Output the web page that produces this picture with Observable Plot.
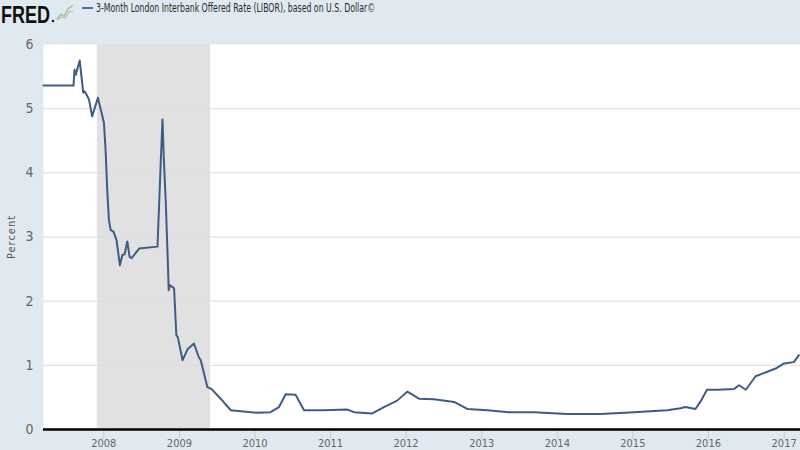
<!DOCTYPE html>
<html>
<head>
<meta charset="utf-8">
<script src="https://cdn.jsdelivr.net/npm/d3@7"></script>
<script src="https://cdn.jsdelivr.net/npm/@observablehq/plot@0.6"></script>
<style>
  html, body { margin: 0; padding: 0; background: #e1e9f0; }
  #wrap { position: relative; width: 800px; height: 450px; overflow: hidden; background: #e1e9f0; }
  #chart { position: absolute; left: 0; top: 0; }
  #header { position: absolute; left: 0; top: 0; }
</style>
</head>
<body>
<div id="wrap">
  <div id="chart"></div>
  <svg id="header" width="800" height="40">
    <text x="1" y="23" font-family="Liberation Sans, Arial, sans-serif" font-weight="bold" font-size="24" fill="#111" textLength="49" lengthAdjust="spacingAndGlyphs">FRED</text>
    <circle cx="53" cy="21" r="1.2" fill="#111"></circle>
    <polyline points="57,19 61,14 64,16 68,9 73,5" fill="none" stroke="#9cbf8a" stroke-width="1.3"></polyline>
    <polyline points="57,20 61,17 65,18 69,12 73,11" fill="none" stroke="#b0b8c0" stroke-width="1.1"></polyline>
    <line x1="82" x2="93" y1="8" y2="8" stroke="#4572a7" stroke-width="2"></line>
    <text id="title" x="96" y="12" font-family="Liberation Sans Narrow, DejaVu Sans Condensed, Arial Narrow, sans-serif" font-size="12.5" fill="#2a2a2a" textLength="279" lengthAdjust="spacingAndGlyphs">3-Month London Interbank Offered Rate (LIBOR), based on U.S. Dollar©</text>
  </svg>
</div>
<script>
// ---- data ----
const dates = [
  "2007-03-16","2007-08-08","2007-08-13","2007-08-19","2007-09-07","2007-09-24","2007-09-30",
  "2007-10-10","2007-10-22","2007-11-06","2007-12-04","2008-01-02","2008-01-10","2008-01-18",
  "2008-01-26","2008-02-03","2008-02-18","2008-03-03","2008-03-19","2008-03-31","2008-04-11",
  "2008-04-24","2008-05-05","2008-05-15","2008-06-20","2008-09-17","2008-09-21","2008-10-03",
  "2008-10-11","2008-10-17","2008-10-27","2008-11-07","2008-11-10","2008-11-15","2008-12-06",
  "2008-12-17","2008-12-24","2009-01-16","2009-02-09","2009-03-12","2009-04-04","2009-04-14",
  "2009-05-16","2009-06-06","2009-07-19","2009-09-06","2010-01-13","2010-03-17","2010-04-27",
  "2010-05-29","2010-07-16","2010-08-26","2010-12-01","2011-03-24","2011-04-25","2011-07-22",
  "2011-09-16","2011-11-19","2012-01-07","2012-03-03","2012-05-15","2012-08-20","2012-10-23",
  "2013-01-28","2013-05-12","2013-09-10","2014-02-18","2014-07-28","2015-01-06","2015-06-16",
  "2015-08-19","2015-09-12","2015-10-30","2015-11-23","2015-12-25","2016-02-13","2016-05-04",
  "2016-05-28","2016-06-30","2016-08-16","2016-10-12","2016-11-21","2016-12-31","2017-02-17",
  "2017-03-13"
];
const rates = [
  5.36,5.36,5.61,5.53,5.75,5.25,5.27,
  5.22,5.14,4.88,5.17,4.78,4.36,3.73,
  3.27,3.11,3.08,2.95,2.56,2.72,2.73,
  2.93,2.69,2.67,2.82,2.85,3.20,4.20,
  4.83,4.25,3.53,2.50,2.17,2.25,2.20,
  1.47,1.44,1.08,1.25,1.34,1.13,1.08,
  0.66,0.63,0.48,0.30,0.26,0.27,0.35,
  0.55,0.54,0.30,0.30,0.31,0.27,0.25,
  0.35,0.45,0.59,0.48,0.47,0.43,0.32,
  0.30,0.27,0.27,0.24,0.24,0.27,0.30,
  0.33,0.35,0.32,0.43,0.62,0.62,0.63,
  0.69,0.62,0.83,0.90,0.95,1.03,1.05,
  1.16
];
const recessionStarts = ["2007-12-01"];
const recessionEnds = ["2009-06-01"];
const yTicks = [0, 1, 2, 3, 4, 5, 6];
const xTickYears = [2008, 2009, 2010, 2011, 2012, 2013, 2014, 2015, 2016, 2017];
const xDomain = ["2007-03-16", "2017-03-21"];

// ---- tables ----
const series = dates.map((d, i) => ({date: new Date(d), rate: rates[i]}));
const recessions = recessionStarts.map((s, i) => ({start: new Date(s), end: new Date(recessionEnds[i])}));
const xTicks = xTickYears.map(y => new Date(Date.UTC(y, 0, 1)));

const narrow = "'Liberation Sans Narrow', 'DejaVu Sans Condensed', 'Arial Narrow', sans-serif";

const chart = Plot.plot({
  width: 800,
  height: 450,
  marginTop: 44,
  marginBottom: 21,
  marginLeft: 43,
  marginRight: 0,
  style: {background: "transparent", fontFamily: narrow},
  x: {type: "utc", domain: xDomain.map(d => new Date(d))},
  y: {domain: [0, 6]},
  marks: [
    Plot.frame({fill: "white", stroke: null}),
    Plot.rect(recessions, {x1: "start", x2: "end", fill: "#e1e1e1"}),
    Plot.gridY(yTicks.filter(v => v > 0 && v < 6), {stroke: "#dcdcdc", strokeOpacity: 1, strokeWidth: 1}),
    Plot.axisY(yTicks, {
      tickSize: 0, tickPadding: 10, fontSize: 14, fill: "#666",
      tickFormat: d => String(d),
      label: "Percent", labelAnchor: "center", labelArrow: "none", labelOffset: 36
    }),
    Plot.axisX(xTicks, {
      tickSize: 10, tickPadding: 0, stroke: "#c8ccd0", fontSize: 11, fill: "#666",
      tickFormat: d3.utcFormat("%Y"), label: null
    }),
    Plot.ruleY([0], {stroke: "#000", strokeWidth: 2.5}),
    Plot.lineY(series, {x: "date", y: "rate", stroke: "#3e5c85", strokeWidth: 2})
  ]
});
document.getElementById("chart").appendChild(chart);
// style the "Percent" label
chart.querySelectorAll("g[aria-label='y-axis label'] text").forEach(t => {
  t.setAttribute("font-size", "11");
  t.setAttribute("fill", "#555");
  t.style.letterSpacing = "1px";
});
</script>
</body>
</html>
